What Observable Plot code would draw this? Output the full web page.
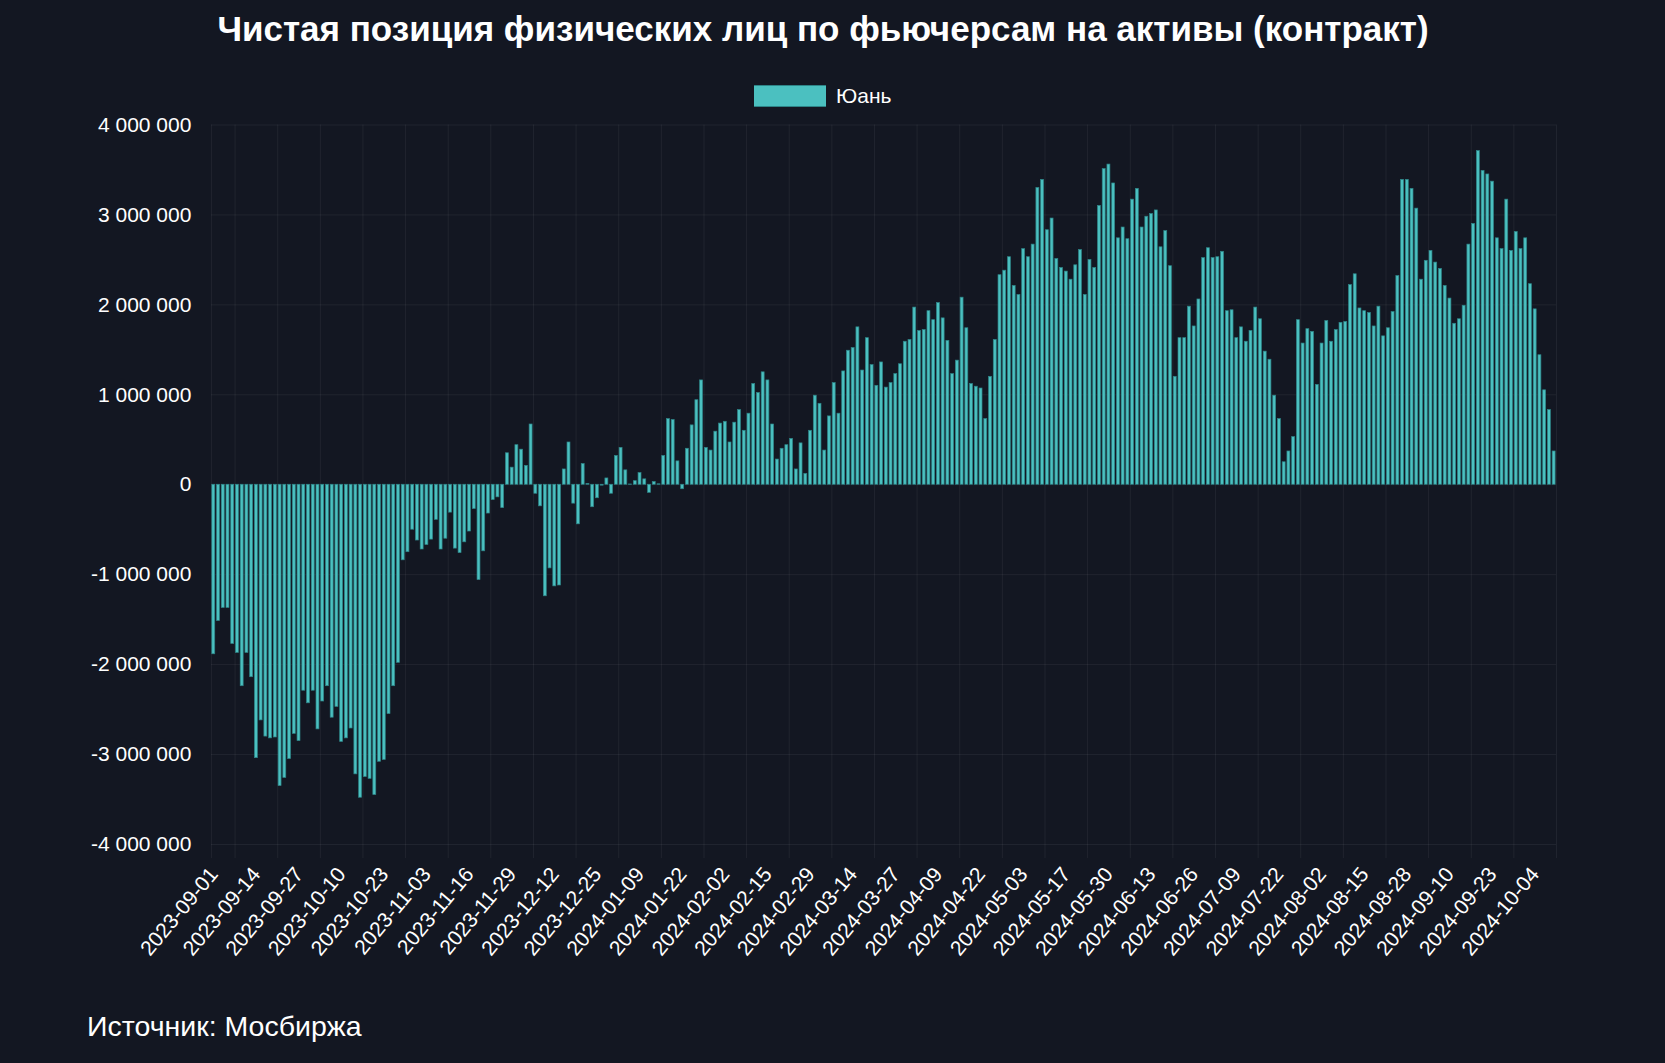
<!DOCTYPE html>
<html>
<head>
<meta charset="utf-8">
<script src="https://cdn.jsdelivr.net/npm/d3@7"></script>
<script src="https://cdn.jsdelivr.net/npm/@observablehq/plot@0.6"></script>
<style>
  html, body { margin: 0; padding: 0; background: #131722; width: 1665px; height: 1063px; overflow: hidden;
    font-family: "Liberation Sans", Arial, sans-serif; color: #ffffff; }
  #title { position: absolute; left: 0; width: 1646px; top: 9px; line-height: 40px; text-align: center;
    font-weight: bold; font-size: 35px; }
  #legend { position: absolute; top: 85px; left: 754px; display: flex; align-items: center; height: 22px; }
  #legend .sw { width: 72px; height: 20px; background: #4bc0c0; border-top: 1px solid #2d8487; border-bottom: 1px solid #2d8487; }
  #legend span { margin-left: 10px; font-size: 21px; line-height: 22px; }
  #chart { position: absolute; left: 0; top: 100px; }
  #caption { position: absolute; left: 87px; top: 1009px; font-size: 28.5px; line-height: 34px; }
</style>
</head>
<body>
<div id="title"></div>
<div id="legend"><div class="sw"></div><span id="legendLabel"></span></div>
<div id="chart"></div>
<div id="caption"></div>
<script>
const titleText = "Чистая позиция физических лиц по фьючерсам на активы (контракт)";
const seriesName = "Юань";
const captionText = "Источник: Мосбиржа";

const dates = [
  "2023-09-01","2023-09-04","2023-09-05","2023-09-06","2023-09-07","2023-09-08","2023-09-11","2023-09-12","2023-09-13","2023-09-14","2023-09-15","2023-09-18","2023-09-19","2023-09-20","2023-09-21","2023-09-22","2023-09-25","2023-09-26","2023-09-27","2023-09-28","2023-09-29",
  "2023-10-02","2023-10-03","2023-10-04","2023-10-05","2023-10-06","2023-10-09","2023-10-10","2023-10-11","2023-10-12","2023-10-13","2023-10-16","2023-10-17","2023-10-18","2023-10-19","2023-10-20","2023-10-23","2023-10-24","2023-10-25","2023-10-26","2023-10-27","2023-10-30","2023-10-31",
  "2023-11-01","2023-11-02","2023-11-03","2023-11-06","2023-11-07","2023-11-08","2023-11-09","2023-11-10","2023-11-13","2023-11-14","2023-11-15","2023-11-16","2023-11-17","2023-11-20","2023-11-21","2023-11-22","2023-11-23","2023-11-24","2023-11-27","2023-11-28","2023-11-29","2023-11-30",
  "2023-12-01","2023-12-04","2023-12-05","2023-12-06","2023-12-07","2023-12-08","2023-12-11","2023-12-12","2023-12-13","2023-12-14","2023-12-15","2023-12-18","2023-12-19","2023-12-20","2023-12-21","2023-12-22","2023-12-25","2023-12-26","2023-12-27","2023-12-28","2023-12-29",
  "2024-01-03","2024-01-04","2024-01-05","2024-01-08","2024-01-09","2024-01-10","2024-01-11","2024-01-12","2024-01-15","2024-01-16","2024-01-17","2024-01-18","2024-01-19","2024-01-22","2024-01-23","2024-01-24","2024-01-25","2024-01-26","2024-01-29","2024-01-30","2024-01-31",
  "2024-02-01","2024-02-02","2024-02-05","2024-02-06","2024-02-07","2024-02-08","2024-02-09","2024-02-12","2024-02-13","2024-02-14","2024-02-15","2024-02-16","2024-02-19","2024-02-20","2024-02-21","2024-02-22","2024-02-26","2024-02-27","2024-02-28","2024-02-29",
  "2024-03-01","2024-03-04","2024-03-05","2024-03-06","2024-03-07","2024-03-11","2024-03-12","2024-03-13","2024-03-14","2024-03-15","2024-03-18","2024-03-19","2024-03-20","2024-03-21","2024-03-22","2024-03-25","2024-03-26","2024-03-27","2024-03-28","2024-03-29",
  "2024-04-01","2024-04-02","2024-04-03","2024-04-04","2024-04-05","2024-04-08","2024-04-09","2024-04-10","2024-04-11","2024-04-12","2024-04-15","2024-04-16","2024-04-17","2024-04-18","2024-04-19","2024-04-22","2024-04-23","2024-04-24","2024-04-25","2024-04-26","2024-04-27","2024-04-29","2024-04-30",
  "2024-05-02","2024-05-03","2024-05-06","2024-05-07","2024-05-08","2024-05-10","2024-05-13","2024-05-14","2024-05-15","2024-05-16","2024-05-17","2024-05-20","2024-05-21","2024-05-22","2024-05-23","2024-05-24","2024-05-27","2024-05-28","2024-05-29","2024-05-30","2024-05-31",
  "2024-06-03","2024-06-04","2024-06-05","2024-06-06","2024-06-07","2024-06-10","2024-06-11","2024-06-13","2024-06-14","2024-06-17","2024-06-18","2024-06-19","2024-06-20","2024-06-21","2024-06-24","2024-06-25","2024-06-26","2024-06-27","2024-06-28",
  "2024-07-01","2024-07-02","2024-07-03","2024-07-04","2024-07-05","2024-07-08","2024-07-09","2024-07-10","2024-07-11","2024-07-12","2024-07-15","2024-07-16","2024-07-17","2024-07-18","2024-07-19","2024-07-22","2024-07-23","2024-07-24","2024-07-25","2024-07-26","2024-07-29","2024-07-30","2024-07-31",
  "2024-08-01","2024-08-02","2024-08-05","2024-08-06","2024-08-07","2024-08-08","2024-08-09","2024-08-12","2024-08-13","2024-08-14","2024-08-15","2024-08-16","2024-08-19","2024-08-20","2024-08-21","2024-08-22","2024-08-23","2024-08-26","2024-08-27","2024-08-28","2024-08-29","2024-08-30",
  "2024-09-02","2024-09-03","2024-09-04","2024-09-05","2024-09-06","2024-09-09","2024-09-10","2024-09-11","2024-09-12","2024-09-13","2024-09-16","2024-09-17","2024-09-18","2024-09-19","2024-09-20","2024-09-23","2024-09-24","2024-09-25","2024-09-26","2024-09-27","2024-09-30",
  "2024-10-01","2024-10-02","2024-10-03","2024-10-04","2024-10-07","2024-10-08","2024-10-09","2024-10-10"
];

const values = [
  -1885000,-1515000,-1370000,-1370000,-1770000,-1870000,-2240000,-1870000,-2140000,-3040000,-2620000,-2800000,-2820000,-2810000,-3350000,-3260000,-3050000,-2770000,-2850000,-2290000,-2430000,
  -2290000,-2720000,-2410000,-2240000,-2590000,-2470000,-2860000,-2820000,-2710000,-3220000,-3480000,-3250000,-3270000,-3450000,-3080000,-3060000,-2550000,-2240000,-1980000,-840000,-750000,-500000,
  -620000,-720000,-670000,-610000,-390000,-720000,-600000,-310000,-710000,-760000,-640000,-520000,-270000,-1060000,-740000,-320000,-170000,-140000,-260000,350000,190000,440000,
  390000,210000,670000,-100000,-240000,-1240000,-930000,-1130000,-1120000,170000,470000,-210000,-440000,230000,10000,-250000,-150000,-10000,70000,-100000,320000,
  410000,160000,3000,40000,130000,60000,-90000,30000,5000,320000,730000,720000,260000,-50000,400000,660000,940000,1160000,410000,380000,590000,
  680000,700000,470000,690000,830000,600000,790000,1120000,1020000,1250000,1160000,670000,280000,400000,440000,510000,170000,460000,120000,600000,
  990000,900000,380000,760000,1130000,790000,1260000,1490000,1520000,1750000,1270000,1630000,1330000,1100000,1360000,1080000,1130000,1230000,1340000,1590000,
  1610000,1970000,1710000,1720000,1930000,1830000,2020000,1850000,1600000,1230000,1380000,2080000,1740000,1120000,1090000,1070000,730000,1200000,1610000,2330000,2380000,2530000,2210000,
  2110000,2620000,2530000,2670000,3300000,3390000,2830000,2960000,2510000,2410000,2370000,2280000,2440000,2610000,2110000,2500000,2410000,3100000,3510000,3560000,3350000,
  2740000,2860000,2730000,3170000,3290000,2860000,2980000,3010000,3050000,2640000,2820000,2430000,1200000,1630000,1630000,1980000,1760000,2060000,2520000,
  2630000,2520000,2530000,2590000,1930000,1940000,1630000,1750000,1590000,1710000,1970000,1840000,1480000,1390000,990000,730000,250000,370000,530000,1830000,1570000,1730000,1700000,
  1110000,1570000,1820000,1590000,1720000,1800000,1810000,2220000,2340000,1960000,1930000,1910000,1760000,1980000,1650000,1740000,1920000,2320000,3390000,3390000,3290000,3070000,
  2280000,2490000,2600000,2470000,2400000,2210000,2070000,1790000,1840000,1990000,2670000,2900000,3710000,3490000,3450000,3370000,2740000,2620000,3170000,2600000,2810000,
  2620000,2740000,2230000,1950000,1440000,1050000,830000,370000
];

const yTicks = [-4000000,-3000000,-2000000,-1000000,0,1000000,2000000,3000000,4000000];
const labelDates = dates.filter((d, i) => i % 9 === 0);
const gridDates = dates.filter((d, i) => i % 9 === 5);

document.getElementById("title").textContent = titleText;
document.getElementById("legendLabel").textContent = seriesName;
document.getElementById("caption").textContent = captionText;

const data = dates.map((d, i) => ({date: d, value: values[i]}));
const fmt = d => (d < 0 ? "-" : "") + String(Math.abs(d)).replace(/\B(?=(\d{3})+(?!\d))/g, " ");

const W = 1665, H = 860;
const mL = 210.9, mR = 109;
const step = (W - mL - mR) / dates.length;

const chart = Plot.plot({
  width: W, height: H,
  marginLeft: mL, marginRight: mR, marginTop: 24.5, marginBottom: 116,
  style: {background: "transparent", color: "#ffffff", fontFamily: "'Liberation Sans', Arial, sans-serif", overflow: "visible"},
  x: {type: "band", domain: dates, padding: 0, axis: null, label: null},
  y: {domain: [-4000000, 4000000], axis: null, label: null},
  marks: [
    Plot.ruleY(yTicks, {stroke: "#ffffff", strokeOpacity: 0.06}),
    Plot.ruleX(gridDates, {stroke: "#ffffff", strokeOpacity: 0.06, dx: -step / 2, insetBottom: -14}),
    Plot.ruleX([dates[0]], {stroke: "#ffffff", strokeOpacity: 0.06, dx: -step / 2, insetBottom: -14}),
    Plot.ruleX([dates[dates.length - 1]], {stroke: "#ffffff", strokeOpacity: 0.06, dx: step / 2, insetBottom: -14}),
    Plot.barY(data, {x: "date", y: "value", fill: "#4bc0c0", stroke: "#2d8487", strokeWidth: 0.7, insetLeft: 0.9, insetRight: 0.9}),
    Plot.axisY(yTicks, {tickSize: 0, tickPadding: 20, fontSize: 21, tickFormat: fmt, fill: "#ffffff", label: null}),
    Plot.axisX(labelDates, {tickSize: 0, tickRotate: -50, tickPadding: 26, fontSize: 21, fill: "#ffffff", label: null})
  ]
});
document.getElementById("chart").appendChild(chart);
</script>
</body>
</html>
